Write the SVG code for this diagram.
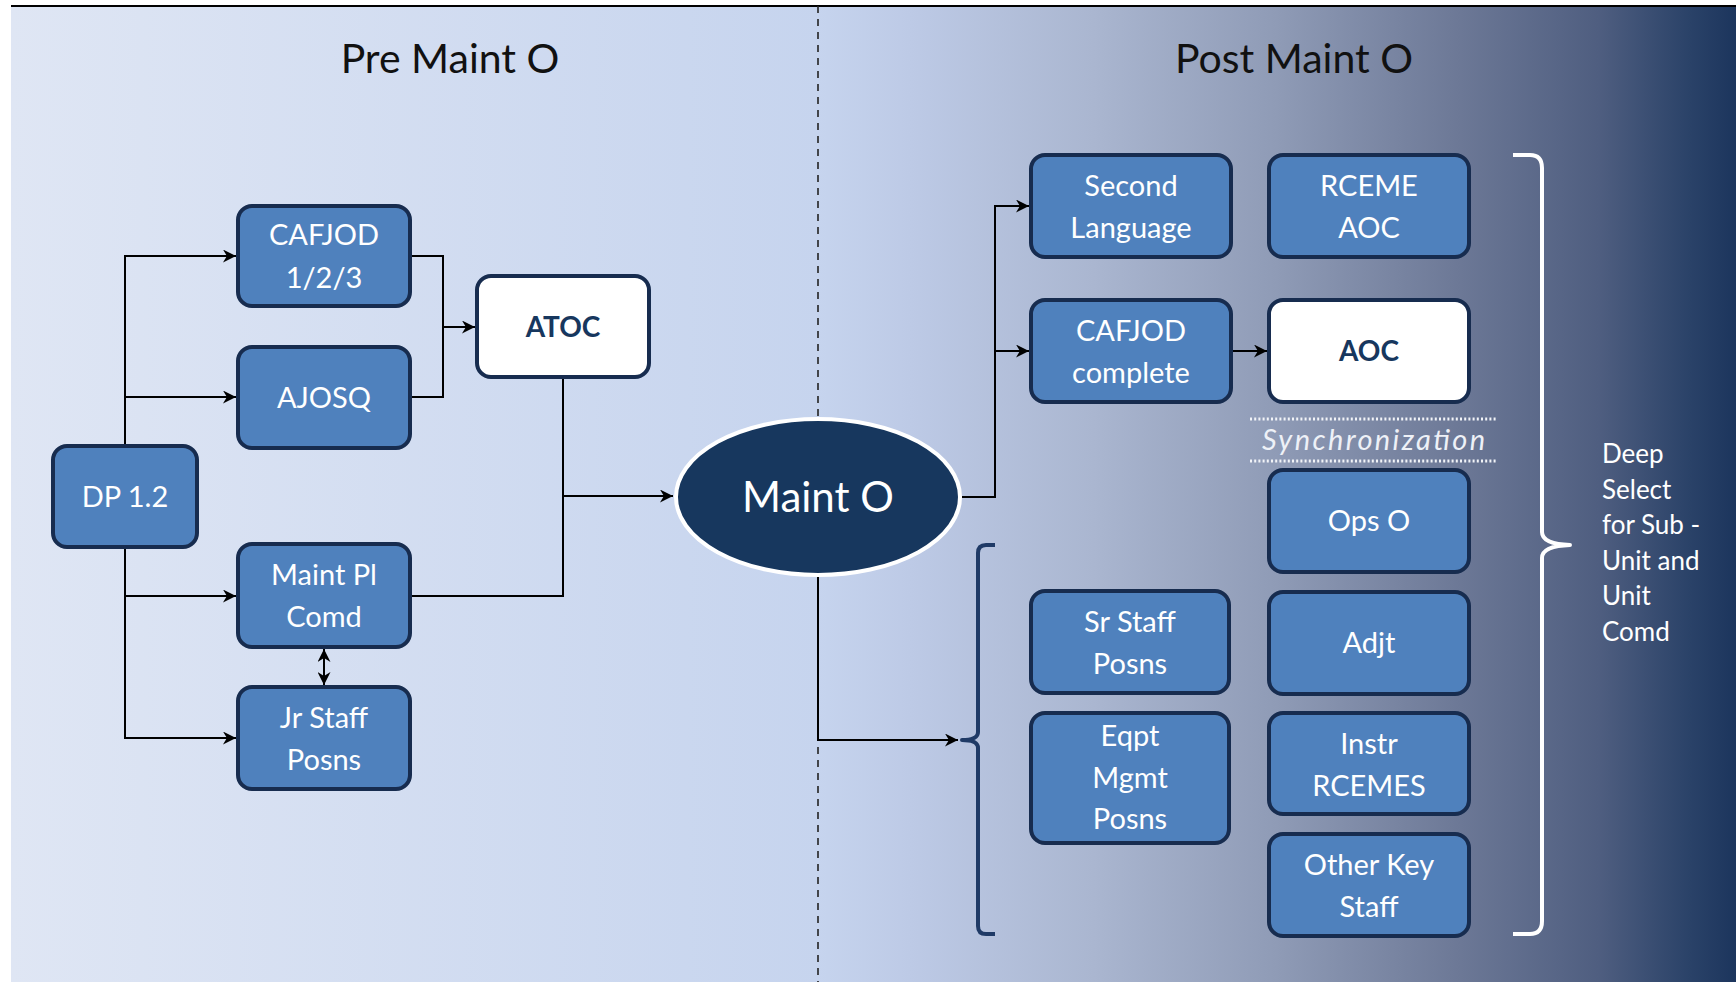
<svg xmlns="http://www.w3.org/2000/svg" width="1736" height="982" viewBox="0 0 1736 982">
<defs>
<linearGradient id="bgL" x1="11" y1="0" x2="818" y2="0" gradientUnits="userSpaceOnUse">
<stop offset="0" stop-color="#dfe6f4"/>
<stop offset="1" stop-color="#c6d4ee"/>
</linearGradient>
<linearGradient id="bgR" x1="818" y1="0" x2="1736" y2="0" gradientUnits="userSpaceOnUse">
<stop offset="0" stop-color="#c6d4ee"/>
<stop offset="0.1" stop-color="#bdcae6"/>
<stop offset="0.3" stop-color="#aab6d0"/>
<stop offset="0.5" stop-color="#8f9bb6"/>
<stop offset="0.7" stop-color="#6c7896"/>
<stop offset="0.85" stop-color="#4f5e80"/>
<stop offset="0.95" stop-color="#2a4268"/>
<stop offset="1" stop-color="#1c355d"/>
</linearGradient>
<marker id="arr" viewBox="0 0 10 10" refX="10" refY="5" markerWidth="13" markerHeight="13" markerUnits="userSpaceOnUse" orient="auto-start-reverse">
<path d="M0,0 L10,5 L0,10 L3,5 z" fill="#000"/>
</marker>
<style>
.box{fill:#4f81bd;stroke:#172c4f;stroke-width:4}
.wbox{fill:#ffffff;stroke:#172c4f;stroke-width:4}
.t{font-family:Lato,"Liberation Sans",sans-serif;font-size:29px;fill:#ffffff;text-anchor:middle}
.tb{font-family:Lato,"Liberation Sans",sans-serif;font-size:28px;font-weight:bold;fill:#17375e;text-anchor:middle}
.title{font-family:Lato,"Liberation Sans",sans-serif;font-size:41px;fill:#111111;text-anchor:middle}
.side{font-family:Lato,"Liberation Sans",sans-serif;font-size:26px;fill:#ffffff}
.c{fill:none;stroke:#000;stroke-width:2}
.ca{fill:none;stroke:#000;stroke-width:2;marker-end:url(#arr)}
</style>
</defs>
<rect x="0" y="0" width="1736" height="982" fill="#ffffff"/>
<rect x="11" y="6" width="807" height="976" fill="url(#bgL)"/>
<rect x="818" y="6" width="918" height="976" fill="url(#bgR)"/>
<line x1="11" y1="6" x2="1736" y2="6" stroke="#000" stroke-width="2"/>
<line x1="818" y1="6" x2="818" y2="982" stroke="#222" stroke-width="1.6" stroke-dasharray="7 6"/>

<text class="title" x="450" y="73">Pre Maint O</text>
<text class="title" x="1294" y="73">Post Maint O</text>

<g id="connectors">
<path class="ca" d="M125,446 V256 H236"/>
<path class="ca" d="M125,397 H236"/>
<path class="ca" d="M125,547 V738 H236"/>
<path class="ca" d="M125,596 H236"/>
<path class="c" d="M410,256 H443 V397 H410"/>
<path class="ca" d="M443,327 H475"/>
<path class="c" d="M563,377 V596 H410"/>
<path class="ca" d="M563,496 H673"/>
<path class="ca" d="M324,649 V685" marker-start="url(#arr)"/>
<path class="ca" d="M962,497 H995 V206 H1029"/>
<path class="ca" d="M995,351 H1029"/>
<path class="ca" d="M1231,351 H1267"/>
<path class="ca" d="M818,576 V740 H958"/>
</g>

<g id="bracket-left">
<path d="M995,545 H986 Q978,545 978,553 V732 Q978,740 962,740 Q978,740 978,748 V926 Q978,934 986,934 H995" fill="none" stroke="#1f3a66" stroke-width="4" stroke-linejoin="round"/>
</g>
<g id="bracket-right">
<path d="M1513,155 H1530 Q1542,155 1542,168 V532 Q1542,544 1570,545 Q1542,546 1542,558 V921 Q1542,934 1530,934 H1513" fill="none" stroke="#ffffff" stroke-width="4" stroke-linejoin="round"/>
</g>

<g id="maint-o">
<ellipse cx="818" cy="497" rx="142" ry="78" fill="#17375e" stroke="#ffffff" stroke-width="4"/>
<text x="818" y="512" font-family="Lato, 'Liberation Sans', sans-serif" font-size="42" fill="#ffffff" text-anchor="middle">Maint O</text>
</g>

<g id="cafjod123"><rect class="box" x="238" y="206" width="172" height="100" rx="14"/><text class="t" x="324" y="245">CAFJOD</text><text class="t" x="324" y="288">1/2/3</text></g>
<g id="ajosq"><rect class="box" x="238" y="347" width="172" height="101" rx="14"/><text class="t" x="324" y="408">AJOSQ</text></g>
<g id="atoc"><rect class="wbox" x="477" y="276" width="172" height="101" rx="14"/><text class="tb" x="563" y="337">ATOC</text></g>
<g id="dp12"><rect class="box" x="53" y="446" width="144" height="101" rx="14"/><text class="t" x="125" y="507">DP 1.2</text></g>
<g id="maintpl"><rect class="box" x="238" y="544" width="172" height="103" rx="14"/><text class="t" x="324" y="585">Maint Pl</text><text class="t" x="324" y="627">Comd</text></g>
<g id="jrstaff"><rect class="box" x="238" y="687" width="172" height="102" rx="14"/><text class="t" x="324" y="728">Jr Staff</text><text class="t" x="324" y="770">Posns</text></g>

<g id="secondlang"><rect class="box" x="1031" y="155" width="200" height="102" rx="14"/><text class="t" x="1131" y="196">Second</text><text class="t" x="1131" y="238">Language</text></g>
<g id="rcemeaoc"><rect class="box" x="1269" y="155" width="200" height="102" rx="14"/><text class="t" x="1369" y="196">RCEME</text><text class="t" x="1369" y="238">AOC</text></g>
<g id="cafjodcomplete"><rect class="box" x="1031" y="300" width="200" height="102" rx="14"/><text class="t" x="1131" y="341">CAFJOD</text><text class="t" x="1131" y="383">complete</text></g>
<g id="aoc"><rect class="wbox" x="1269" y="300" width="200" height="102" rx="14"/><text class="tb" x="1369" y="361">AOC</text></g>

<g id="sync">
<line x1="1250" y1="419" x2="1497" y2="419" stroke="#f2f4f8" stroke-width="3" stroke-dasharray="2 2.2"/>
<line x1="1250" y1="461" x2="1497" y2="461" stroke="#f2f4f8" stroke-width="3" stroke-dasharray="2 2.2"/>
<text x="1262" y="450" font-family="Lato, 'Liberation Sans', sans-serif" font-size="29" font-style="italic" fill="#eef1f7" textLength="223" lengthAdjust="spacing">Synchronization</text>
</g>

<g id="opso"><rect class="box" x="1269" y="470" width="200" height="102" rx="14"/><text class="t" x="1369" y="531">Ops O</text></g>
<g id="srstaff"><rect class="box" x="1031" y="591" width="198" height="102" rx="14"/><text class="t" x="1130" y="632">Sr Staff</text><text class="t" x="1130" y="674">Posns</text></g>
<g id="adjt"><rect class="box" x="1269" y="592" width="200" height="102" rx="14"/><text class="t" x="1369" y="653">Adjt</text></g>
<g id="eqpt"><rect class="box" x="1031" y="713" width="198" height="130" rx="14"/><text class="t" x="1130" y="746">Eqpt</text><text class="t" x="1130" y="788">Mgmt</text><text class="t" x="1130" y="829">Posns</text></g>
<g id="instr"><rect class="box" x="1269" y="713" width="200" height="101" rx="14"/><text class="t" x="1369" y="754">Instr</text><text class="t" x="1369" y="796">RCEMES</text></g>
<g id="otherkey"><rect class="box" x="1269" y="834" width="200" height="102" rx="14"/><text class="t" x="1369" y="875">Other Key</text><text class="t" x="1369" y="917">Staff</text></g>

<g id="deepselect">
<text class="side" x="1602" y="463">Deep</text>
<text class="side" x="1602" y="499">Select</text>
<text class="side" x="1602" y="534">for Sub -</text>
<text class="side" x="1602" y="570">Unit and</text>
<text class="side" x="1602" y="605">Unit</text>
<text class="side" x="1602" y="641">Comd</text>
</g>
</svg>
